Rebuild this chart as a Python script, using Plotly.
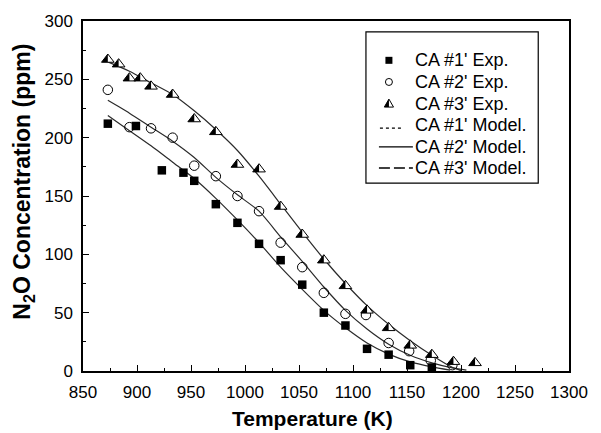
import plotly.graph_objects as go

# ---------------- data ----------------
ca1_T = [873, 899, 923, 943, 953, 973, 993, 1013, 1033, 1053, 1073, 1093, 1113, 1133, 1153, 1173]
ca1_v = [212, 210, 172, 170, 163, 143, 127, 109, 95, 74, 50, 39, 19, 14, 5, 3]

ca2_T = [873, 893, 913, 933, 953, 973, 993, 1013, 1033, 1053, 1073, 1093, 1112, 1133, 1152, 1172, 1192]
ca2_v = [241, 209, 208, 200, 176, 167, 150, 137, 110, 89, 67, 49, 48, 24, 17, 9, 5]

ca3_T = [873, 883, 893, 903, 913, 933, 953, 973, 993, 1013, 1033, 1053, 1073, 1093, 1113, 1133, 1153, 1173, 1193, 1213]
ca3_v = [267, 263, 251, 251, 244, 237, 216, 205, 177, 173, 141, 117, 95, 73, 52, 37, 22, 14, 8, 7]

m1_T = [873, 893, 913, 933, 953, 973, 993, 1013, 1033, 1053, 1073, 1093, 1113, 1133, 1153, 1173, 1190]
m1_v = [219, 206, 193, 179, 165, 148, 129.5, 110, 89, 70, 52, 37, 24, 14.5, 7.8, 3.6, 0.8]

m2_T = [873, 893, 913, 933, 953, 973, 993, 1013, 1033, 1053, 1073, 1093, 1113, 1133, 1153, 1173, 1193, 1205]
m2_v = [232, 221, 209, 197, 183, 166, 151, 137, 115, 94, 72, 52, 36, 23, 13.5, 7, 2.5, 0.8]

m3_T = [873, 893, 913, 933, 953, 973, 993, 1013, 1033, 1053, 1073, 1093, 1113, 1133, 1153, 1173, 1191, 1200]
m3_v = [265, 257, 247, 237, 223, 207, 189, 167, 143, 119, 96, 75, 56, 40, 26, 13.5, 3.6, 0.3]

x_ticks = [850, 900, 950, 1000, 1050, 1100, 1150, 1200, 1250, 1300]
y_ticks = [0, 50, 100, 150, 200, 250, 300]

legend_labels = ["CA #1' Exp.", "CA #2' Exp.", "CA #3' Exp.",
                 "CA #1' Model.", "CA #2' Model.", "CA #3' Model."]

# ---------------- style ----------------
FONT = "Liberation Sans, Arial, Helvetica, sans-serif"
LINE_C = "#2a2a2a"
TRI_SIZE = 11
HALF_TRI = "M0,5.5 L-6.35,-2.75 L0,-2.75 Z"

fig = go.Figure()

for T, v in [(m1_T, m1_v), (m2_T, m2_v), (m3_T, m3_v)]:
    fig.add_trace(go.Scatter(x=T, y=v, mode="lines", showlegend=False,
                             line=dict(color=LINE_C, width=1.2, shape="spline", smoothing=0.6)))

fig.add_trace(go.Scatter(x=ca1_T, y=ca1_v, mode="markers", name=legend_labels[0], showlegend=False,
                         marker=dict(symbol="square", size=8.5, color="black")))
fig.add_trace(go.Scatter(x=ca2_T, y=ca2_v, mode="markers", name=legend_labels[1], showlegend=False,
                         marker=dict(symbol="circle-open", size=9.5, color="black", line=dict(width=1))))
fig.add_trace(go.Scatter(x=ca3_T, y=ca3_v, mode="markers", name=legend_labels[2], showlegend=False,
                         marker=dict(symbol="triangle-up", size=TRI_SIZE, color="white",
                                     line=dict(width=1, color="black"))))

shapes = []
# left half of each triangle filled black
for T, v in zip(ca3_T, ca3_v):
    shapes.append(dict(type="path", xref="x", yref="y", xsizemode="pixel", ysizemode="pixel",
                       xanchor=T, yanchor=v, path=HALF_TRI, fillcolor="black",
                       line=dict(width=0), layer="above"))

# ---------------- manual legend ----------------
PX0, PW = 82.7, 486.6
PY1, PH = 371.0, 356.0
def px(x):
    return (x - PX0) / PW
def py(y):
    return (PY1 - y) / PH

rows = [55, 77, 99, 121, 143, 164.5]
sym_x = px(389)
shapes.append(dict(type="rect", xref="paper", yref="paper", x0=px(366), x1=px(538.5),
                   y0=py(180), y1=py(26), line=dict(color="black", width=1.2), fillcolor="rgba(0,0,0,0)"))
shapes.append(dict(type="rect", xref="paper", yref="paper", xsizemode="pixel", ysizemode="pixel",
                   xanchor=sym_x, yanchor=py(rows[0]), x0=-3.5, x1=3.5, y0=-3.5, y1=3.5,
                   fillcolor="black", line=dict(width=0)))
shapes.append(dict(type="circle", xref="paper", yref="paper", xsizemode="pixel", ysizemode="pixel",
                   xanchor=sym_x, yanchor=py(rows[1]), x0=-3.5, x1=3.5, y0=-3.5, y1=3.5,
                   line=dict(color="black", width=1)))
shapes.append(dict(type="path", xref="paper", yref="paper", xsizemode="pixel", ysizemode="pixel",
                   xanchor=sym_x, yanchor=py(rows[2]), path="M0,4.5 L-4.6,-3.5 L4.6,-3.5 Z",
                   line=dict(color="black", width=1), fillcolor="white"))
shapes.append(dict(type="path", xref="paper", yref="paper", xsizemode="pixel", ysizemode="pixel",
                   xanchor=sym_x, yanchor=py(rows[2]), path="M0,4.5 L-4.6,-3.5 L0,-3.5 Z",
                   line=dict(width=0), fillcolor="black"))
shapes.append(dict(type="line", xref="paper", yref="paper", x0=px(380), x1=px(402),
                   y0=py(rows[3] + 3), y1=py(rows[3] + 3), line=dict(color="black", width=1.3, dash="dot")))
shapes.append(dict(type="line", xref="paper", yref="paper", x0=px(379), x1=px(413),
                   y0=py(rows[4]), y1=py(rows[4]), line=dict(color="black", width=1.3)))
shapes.append(dict(type="line", xref="paper", yref="paper", x0=px(379), x1=px(413),
                   y0=py(rows[5]), y1=py(rows[5]), line=dict(color="black", width=1.3, dash="11px,4px")))

annotations = []
for lab, r in zip(legend_labels, rows):
    annotations.append(dict(text=lab, xref="paper", yref="paper", x=px(413.5), y=py(r),
                            xanchor="left", yanchor="middle", showarrow=False,
                            font=dict(family=FONT, size=18, color="black")))

annotations.append(dict(text="<b>Temperature (K)</b>", xref="paper", yref="paper",
                        x=px(312.5), y=py(419), xanchor="center", yanchor="middle", showarrow=False,
                        font=dict(family=FONT, size=21, color="black")))
annotations.append(dict(text="<b>N<sub>2</sub>O Concentration (ppm)</b>", xref="paper", yref="paper",
                        x=px(23), y=py(178), xanchor="center", yanchor="middle", showarrow=False,
                        textangle=-90, font=dict(family=FONT, size=23, color="black")))

axis_common = dict(showline=True, linecolor="black", linewidth=1.5, mirror=True,
                   showgrid=False, zeroline=False, ticks="inside", ticklen=6, tickwidth=1.2,
                   tickcolor="black", ticklabelstandoff=5,
                   tickfont=dict(family=FONT, size=17, color="black"))

fig.update_layout(
    width=601, height=433,
    margin=dict(l=83, r=32, t=15, b=62),
    paper_bgcolor="white", plot_bgcolor="white",
    showlegend=False,
    shapes=shapes, annotations=annotations,
    xaxis=dict(range=[850, 1300], tickvals=x_ticks, ticktext=[str(t) for t in x_ticks],
               minor=dict(dtick=25, tick0=850, ticks="inside", ticklen=3, tickcolor="black", tickwidth=1),
               **axis_common),
    yaxis=dict(range=[0, 300], tickvals=y_ticks, ticktext=[str(t) for t in y_ticks],
               minor=dict(dtick=25, tick0=0, ticks="inside", ticklen=3, tickcolor="black", tickwidth=1),
               **axis_common),
)

fig.write_html("out.html")
